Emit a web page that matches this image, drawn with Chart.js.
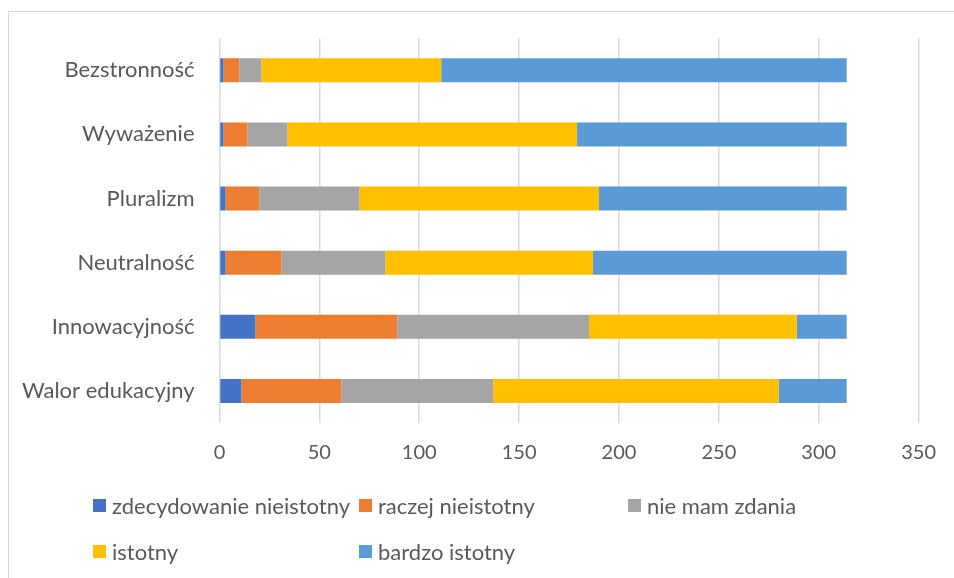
<!DOCTYPE html>
<html>
<head>
<meta charset="utf-8">
<script src="https://cdn.jsdelivr.net/npm/chart.js@4"></script>
<style>
  body { margin: 0; background: #fff; }
  #wrap { position: relative; width: 954px; height: 578px; overflow: hidden; }
  #frame {
    position: absolute; left: 8px; top: 11px; width: 960px; height: 580px;
    border-left: 1px solid #d9d9d9; border-top: 1px solid #d9d9d9;
  }
  #myChart { position: absolute; left: 0; top: 0; }
  #legend { position: absolute; left: 0; top: 0; font-family: Lato, sans-serif; font-size: 22px; color: #595959; }
  .item { position: absolute; display: flex; align-items: center; white-space: nowrap; }
  .box { width: 13px; height: 13px; margin-right: 6px; }
</style>
</head>
<body>
<div id="wrap">
  <div id="frame"></div>
  <canvas id="myChart" width="954" height="578"></canvas>
  <div id="legend"></div>
</div>
<script>
const categories = ["Bezstronność", "Wyważenie", "Pluralizm", "Neutralność", "Innowacyjność", "Walor edukacyjny"];
const seriesNames = ["zdecydowanie nieistotny", "raczej nieistotny", "nie mam zdania", "istotny", "bardzo istotny"];
const seriesColors = ["#4472C4", "#ED7D31", "#A5A5A5", "#FFC000", "#5B9BD5"];

// answers per category, same order as categories
const zdecydowanieNieistotny = [2, 2, 3, 3, 18, 11];
const raczejNieistotny = [8, 12, 17, 28, 71, 50];
const nieMamZdania = [11, 20, 50, 52, 96, 76];
const istotny = [90, 145, 120, 104, 104, 143];
const bardzoIstotny = [203, 135, 124, 127, 25, 34];
const seriesValues = [zdecydowanieNieistotny, raczejNieistotny, nieMamZdania, istotny, bardzoIstotny];

const xTicks = [0, 50, 100, 150, 200, 250, 300, 350];

const textColor = "#595959";

var chart = new Chart("myChart", {
  type: "bar",
  data: {
    labels: categories,
    datasets: seriesNames.map(function (name, i) {
      return {
        label: name,
        data: seriesValues[i],
        backgroundColor: seriesColors[i],
        borderWidth: 0,
        barPercentage: 0.375,
        categoryPercentage: 1,
      };
    }),
  },
  options: {
    indexAxis: "y",
    responsive: false,
    animation: false,
    layout: { padding: { top: 38, right: 34, bottom: 105, left: 0 } },
    plugins: {
      legend: { display: false },
      tooltip: { enabled: false },
    },
    scales: {
      x: {
        stacked: true,
        min: xTicks[0],
        max: xTicks[xTicks.length - 1],
        afterBuildTicks: function (axis) {
          axis.ticks = xTicks.map(function (v) { return { value: v }; });
        },
        afterFit: function (axis) { axis.height = 50; },
        grid: { color: "#d9d9d9", lineWidth: 1.5, drawTicks: false },
        border: { display: false },
        ticks: { color: textColor, font: { family: "Lato, sans-serif", size: 20 }, padding: 18 },
      },
      y: {
        stacked: true,
        afterFit: function (axis) { axis.width = 219.5; },
        grid: { display: false, drawTicks: false },
        border: { display: false },
        ticks: { color: textColor, font: { family: "Lato, sans-serif", size: 22 }, padding: 25 },
      },
    },
  },
});

// legend laid out in three columns, two rows
const legendCols = [93, 359, 628];
const legendRows = [505, 551];
const legend = document.getElementById("legend");
chart.data.datasets.forEach(function (ds, i) {
  const item = document.createElement("div");
  item.className = "item";
  item.style.left = legendCols[i % 3] + "px";
  item.style.top = legendRows[Math.floor(i / 3)] - 13 + "px";
  item.style.height = "26px";
  const box = document.createElement("span");
  box.className = "box";
  box.style.background = ds.backgroundColor;
  const label = document.createElement("span");
  label.textContent = ds.label;
  item.appendChild(box);
  item.appendChild(label);
  legend.appendChild(item);
});
</script>
</body>
</html>
